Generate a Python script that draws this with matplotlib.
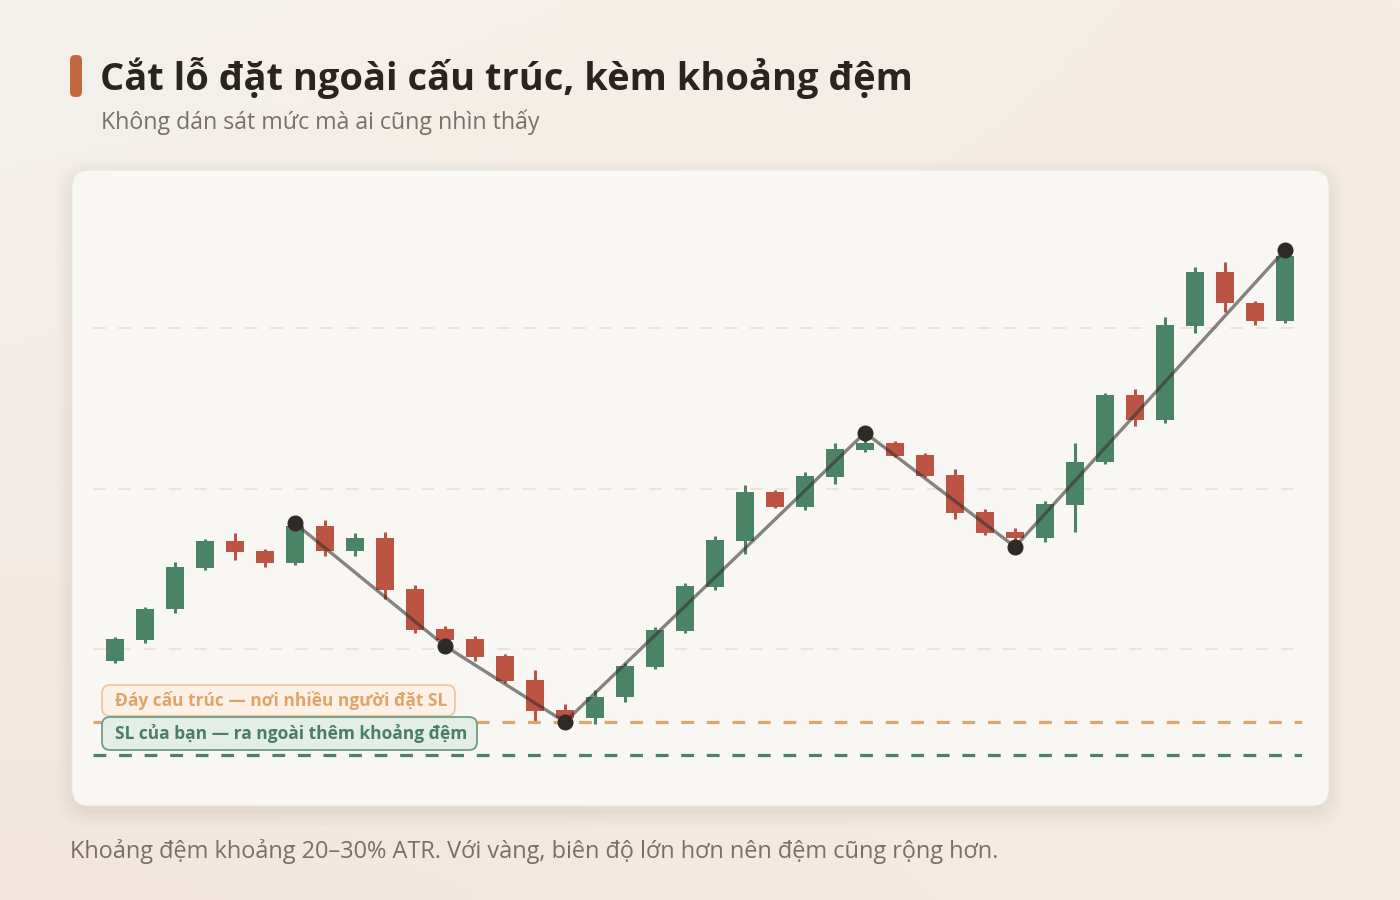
import numpy as np
import matplotlib
matplotlib.use("Agg")
import matplotlib.pyplot as plt
from matplotlib.patches import FancyBboxPatch

plt.rcParams["font.family"] = ["Open Sans", "Noto Sans", "DejaVu Sans"]

# candle data
opens = [99.27, 100.56, 102.47, 105.07, 106.71, 106.09, 105.34, 107.66, 106.11, 106.92,
         103.74, 101.25, 100.62, 99.56, 98.07, 96.20, 95.68, 96.99, 98.90, 101.14,
         103.88, 106.75, 109.78, 108.87, 110.74, 112.40, 112.85, 112.09, 110.84, 108.52,
         107.27, 106.90, 108.99, 111.63, 115.83, 114.27, 120.14, 123.49, 121.56, 120.45]
highs = [100.77, 102.60, 105.42, 106.85, 107.23, 106.23, 107.83, 108.04, 107.23, 107.29,
         103.99, 101.43, 100.81, 99.69, 98.69, 96.57, 97.45, 99.11, 101.39, 104.09,
         107.04, 110.22, 109.91, 111.03, 112.82, 113.48, 112.96, 112.23, 111.21, 108.72,
         107.52, 109.24, 112.85, 115.93, 116.20, 120.67, 123.80, 124.11, 121.68, 124.86]
lows = [99.15, 100.36, 102.22, 104.92, 105.55, 105.13, 105.21, 105.81, 105.81, 103.13,
        101.02, 100.19, 99.27, 97.86, 95.53, 95.45, 95.35, 96.72, 98.75, 101.02,
        103.68, 105.92, 108.79, 108.66, 110.28, 112.29, 111.94, 110.74, 108.08, 107.10,
        106.37, 106.69, 107.31, 111.51, 113.91, 114.06, 119.71, 121.02, 120.21, 120.33]
closes = [100.60, 102.47, 105.09, 106.71, 106.06, 105.34, 107.66, 106.12, 106.93, 103.68,
          101.18, 100.56, 99.52, 98.02, 96.16, 95.70, 97.03, 98.94, 101.18, 103.93,
          106.79, 109.78, 108.87, 110.78, 112.46, 112.82, 112.04, 110.80, 108.49, 107.25,
          106.90, 109.03, 111.63, 115.83, 114.27, 120.17, 123.49, 121.54, 120.45, 124.49]

swing_idx = [6, 11, 15, 25, 30, 39]
swing_px = [107.83, 100.19, 95.45, 113.48, 106.37, 124.86]

grid_levels = [100, 110, 120]
structure_low = 95.45
my_sl = 93.4

title = "Cắt lỗ đặt ngoài cấu trúc, kèm khoảng đệm"
subtitle = "Không dán sát mức mà ai cũng nhìn thấy"
footer = "Khoảng đệm khoảng 20–30% ATR. Với vàng, biên độ lớn hơn nên đệm cũng rộng hơn."
label_structure = "Đáy cấu trúc — nơi nhiều người đặt SL"
label_sl = "SL của bạn — ra ngoài thêm khoảng đệm"

GREEN = "#4a8366"
RED = "#bb5442"
ORANGE = "#dca76e"

W, H = 1400, 900
fig = plt.figure(figsize=(14, 9), dpi=100)

# background gradient
bg = fig.add_axes([0, 0, 1, 1], zorder=-10)
gx, gy = np.meshgrid(np.linspace(0, 1, 200), np.linspace(0, 1, 130))
c_tl = np.array([0xf4, 0xf1, 0xec]) / 255
c_tr = np.array([0xf5, 0xec, 0xe2]) / 255
c_bl = np.array([0xf2, 0xe6, 0xdf]) / 255
c_br = np.array([0xf4, 0xec, 0xe3]) / 255
img = (c_tl[None, None] * ((1 - gx) * (1 - gy))[..., None]
       + c_tr[None, None] * (gx * (1 - gy))[..., None]
       + c_bl[None, None] * ((1 - gx) * gy)[..., None]
       + c_br[None, None] * (gx * gy)[..., None])
bg.imshow(img, aspect="auto", extent=[0, 1, 0, 1], origin="upper")
bg.set_axis_off()


def px_box(x0, y0, x1, y1):
    # pixel box (top-left origin) -> figure fraction
    return x0 / W, 1 - y1 / H, (x1 - x0) / W, (y1 - y0) / H


def rbox(x0, y0, x1, y1, radius_px, **kw):
    l, b, w, h = px_box(x0, y0, x1, y1)
    p = FancyBboxPatch((l, b), w, h,
                       boxstyle=f"round,pad=0,rounding_size={radius_px / W}",
                       transform=fig.transFigure, mutation_aspect=W / H, **kw)
    fig.patches.append(p)
    return p


# card shadow + card
cx0, cy0, cx1, cy1 = 72, 170, 1329, 806
for i, a in enumerate([0.018, 0.018, 0.02, 0.025, 0.03]):
    g = 14 - i * 3
    rbox(cx0 - g, cy0 - g + 6, cx1 + g, cy1 + g + 6, 28, facecolor="#8a6a50",
         edgecolor="none", alpha=a, zorder=-5)
rbox(cx0, cy0, cx1, cy1, 17, facecolor="#f9f7f4", edgecolor="#ece6de",
     linewidth=0.8, zorder=-4)

# accent bar
rbox(70, 55, 82, 97, 5, facecolor="#c4693f", edgecolor="none")

fig.text(100 / W, 1 - 78 / H, title, fontsize=27.4, fontweight="bold", color="#2a2420",
         va="center", ha="left")
fig.text(101 / W, 1 - 122 / H, subtitle, fontsize=16.7, color="#7a706a", va="center", ha="left")
fig.text(70 / W, 1 - 852 / H, footer, fontsize=16.9, color="#7a6e66", va="center", ha="left")

# chart axes
ax_l, ax_r, ax_t, ax_b = 93, 1302, 200, 785
ax = fig.add_axes([ax_l / W, 1 - ax_b / H, (ax_r - ax_l) / W, (ax_b - ax_t) / H])
ax.set_facecolor("none")
ax.set_xlim(-0.733, 39.567)
ax.set_ylim(100 - (ax_b - 649) / 16.05, 100 + (649 - ax_t) / 16.05)
ax.set_axis_off()

for lv in grid_levels:
    ax.axhline(lv, color="#e9e3da", lw=1.4, dashes=(6.5, 6.5), zorder=1)

x = np.arange(len(opens))
o = np.array(opens)
c = np.array(closes)
cols = [GREEN if cc >= oo else RED for oo, cc in zip(o, c)]
ax.vlines(x, lows, highs, colors=cols, lw=2.2, zorder=2)
ax.bar(x, np.abs(c - o), bottom=np.minimum(o, c), width=0.63, color=cols, zorder=3)

ax.axhline(structure_low, color=ORANGE, lw=2.3, dashes=(4, 4), zorder=4)
ax.axhline(my_sl, color=GREEN, lw=2.3, dashes=(4, 4), zorder=4)

ax.plot(swing_idx, swing_px, color="#3a3430", alpha=0.6, lw=2.4, zorder=5,
        solid_capstyle="round")
ax.plot(swing_idx, swing_px, "o", color="#2f2a25", ms=10.5, zorder=6)

# label boxes on top of the chart
rbox(102, 685, 455, 716, 8, facecolor="#fbf1e7", edgecolor="#efc9a0", linewidth=1.3, zorder=5)
rbox(102, 717, 477, 750, 8, facecolor="#e3eee6", edgecolor="#6f9e86", linewidth=1.3, zorder=6)
fig.text(115 / W, 1 - 701 / H, label_structure, fontsize=12.5, fontweight="bold",
         color="#e0a466", va="center", ha="left", zorder=10)
fig.text(115 / W, 1 - 734 / H, label_sl, fontsize=12.5, fontweight="bold",
         color="#4a7e66", va="center", ha="left", zorder=11)

fig.savefig("out.png", dpi=100, facecolor=fig.get_facecolor())
